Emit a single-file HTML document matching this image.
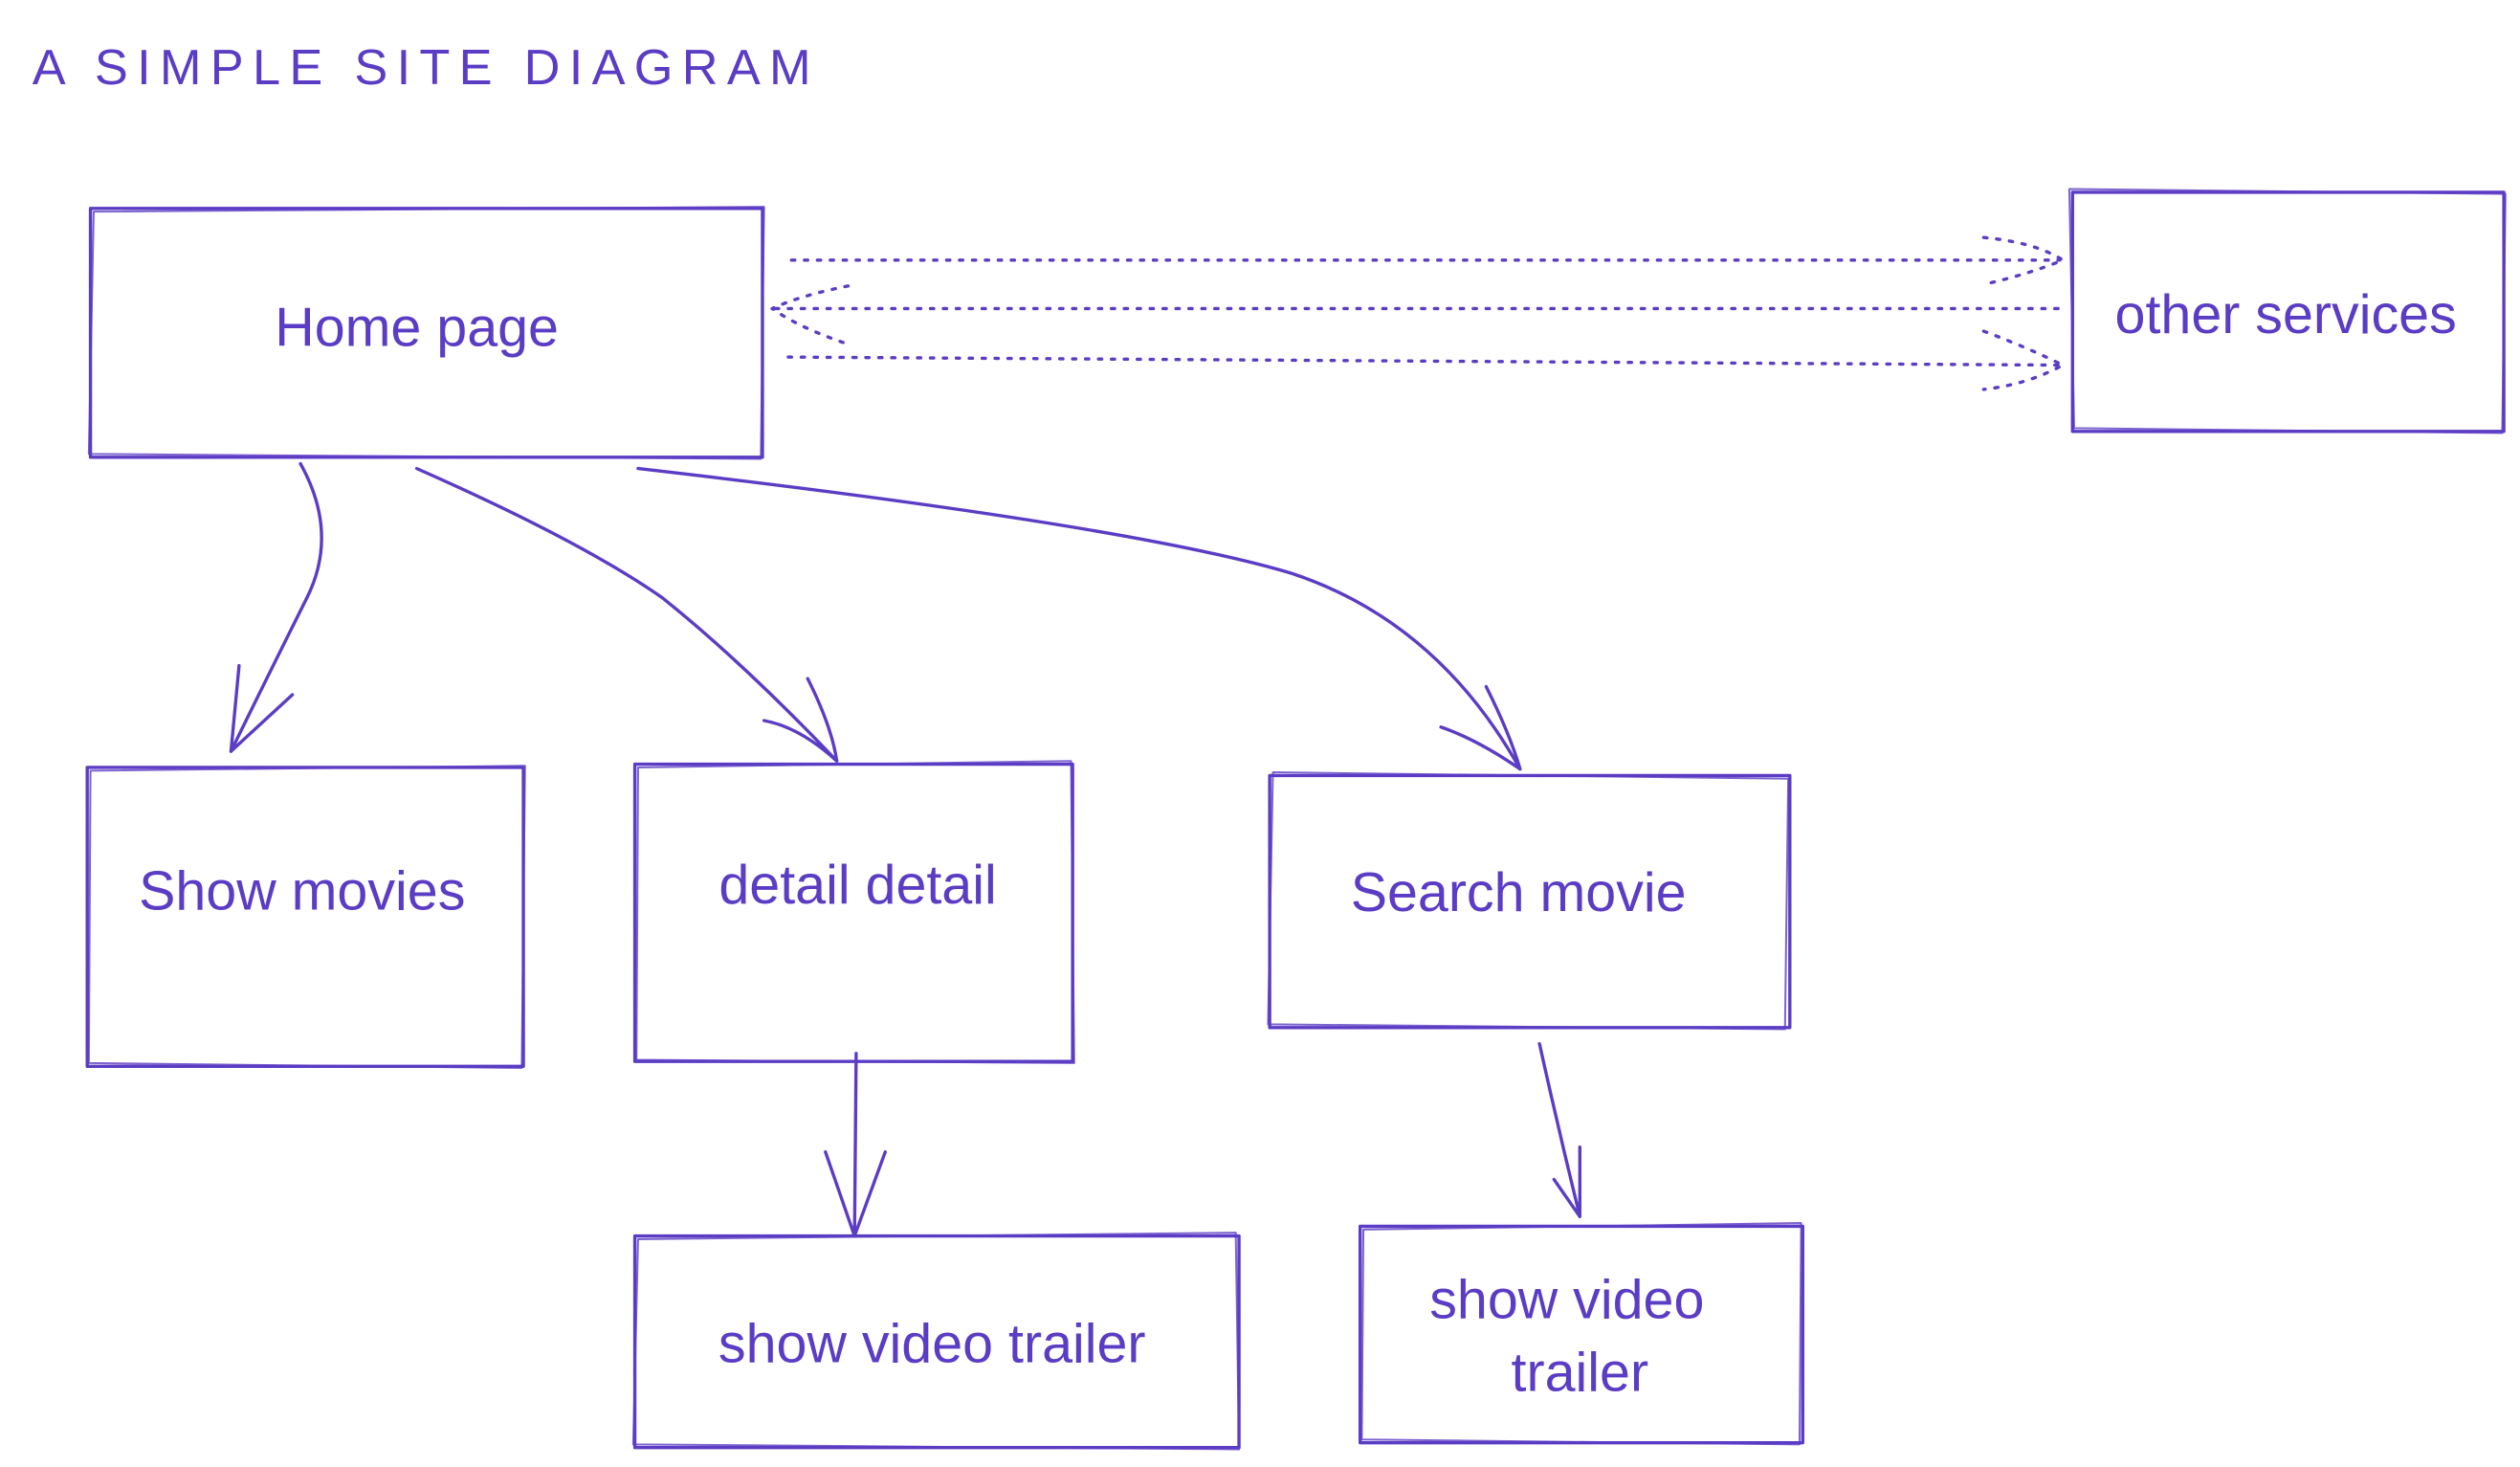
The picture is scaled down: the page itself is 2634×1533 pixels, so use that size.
<!DOCTYPE html>
<html><head><meta charset="utf-8"><style>
html,body{margin:0;padding:0;background:#fff;}
svg{display:block;}
text{font-family:"Liberation Sans",sans-serif;fill:#5b3cc4;}
</style></head><body>
<svg width="2634" height="1533" viewBox="0 0 1560 908" preserveAspectRatio="none" xmlns="http://www.w3.org/2000/svg">
<g fill="none" stroke="#5b3cc4" stroke-width="2" stroke-linecap="round" stroke-linejoin="round">
<rect x="56" y="129" width="416" height="154"/>
<path d="M58 131 L473 128 L471 284 L55 281 Z" stroke-width="1.2" opacity="0.8"/>
<rect x="1283" y="119" width="267" height="148"/>
<path d="M1281 117 L1551 120 L1549 268 L1284 265 Z" stroke-width="1.2" opacity="0.8"/>
<rect x="54" y="475" width="270" height="185"/>
<path d="M56 477 L325 474 L323 661 L55 658 Z" stroke-width="1.2" opacity="0.8"/>
<rect x="393" y="473" width="271" height="184"/>
<path d="M395 475 L663 471 L665 658 L394 656 Z" stroke-width="1.2" opacity="0.8"/>
<rect x="786" y="480" width="322" height="156"/>
<path d="M788 478 L1107 482 L1105 637 L785 634 Z" stroke-width="1.2" opacity="0.8"/>
<rect x="393" y="765" width="374" height="131"/>
<path d="M395 767 L765 763 L767 897 L392 894 Z" stroke-width="1.2" opacity="0.8"/>
<rect x="842" y="759" width="274" height="134"/>
<path d="M844 761 L1115 757 L1114 894 L843 891 Z" stroke-width="1.2" opacity="0.8"/>
<g stroke-dasharray="2 6" stroke-width="2">
<path d="M490 161 L1275 161"/>
<path d="M1228 147 Q1260 150 1277 161 Q1255 170 1228 176"/>
<path d="M480 191 L1275 191"/>
<path d="M525 177 Q495 183 478 191 Q495 203 525 213"/>
<path d="M488 221 L1277 226"/>
<path d="M1228 205 Q1255 215 1277 226 Q1255 238 1228 241"/>
</g>
<path d="M186 287 Q210 330 190 370 Q165 420 143 465"/>
<path d="M148 412 L143 465 L181 430"/>
<path d="M258 290 Q360 335 410 370 Q460 410 518 471"/>
<path d="M500 420 Q515 450 518 471 Q495 450 473 446"/>
<path d="M395 290 Q700 325 800 355 Q890 385 941 476"/>
<path d="M920 425 Q935 455 941 476 Q915 458 892 450"/>
<path d="M530 652 L529 765"/>
<path d="M511 713 L529 765 L548 713"/>
<path d="M953 646 Q965 700 978 753"/>
<path d="M962 730 L978 753 L978 710"/>
</g>
<text x="20" y="52" font-size="31" letter-spacing="5.5">A SIMPLE SITE DIAGRAM</text>
<g font-size="34" text-anchor="middle">
<text x="258" y="214">Home page</text>
<text x="1415" y="206">other services</text>
<text x="187" y="563">Show movies</text>
<text x="531" y="559">detail detail</text>
<text x="940" y="564">Search movie</text>
<text x="577" y="843">show video trailer</text>
<text x="970" y="816">show video</text>
<text x="978" y="861">trailer</text>
</g>
</svg>
</body></html>
